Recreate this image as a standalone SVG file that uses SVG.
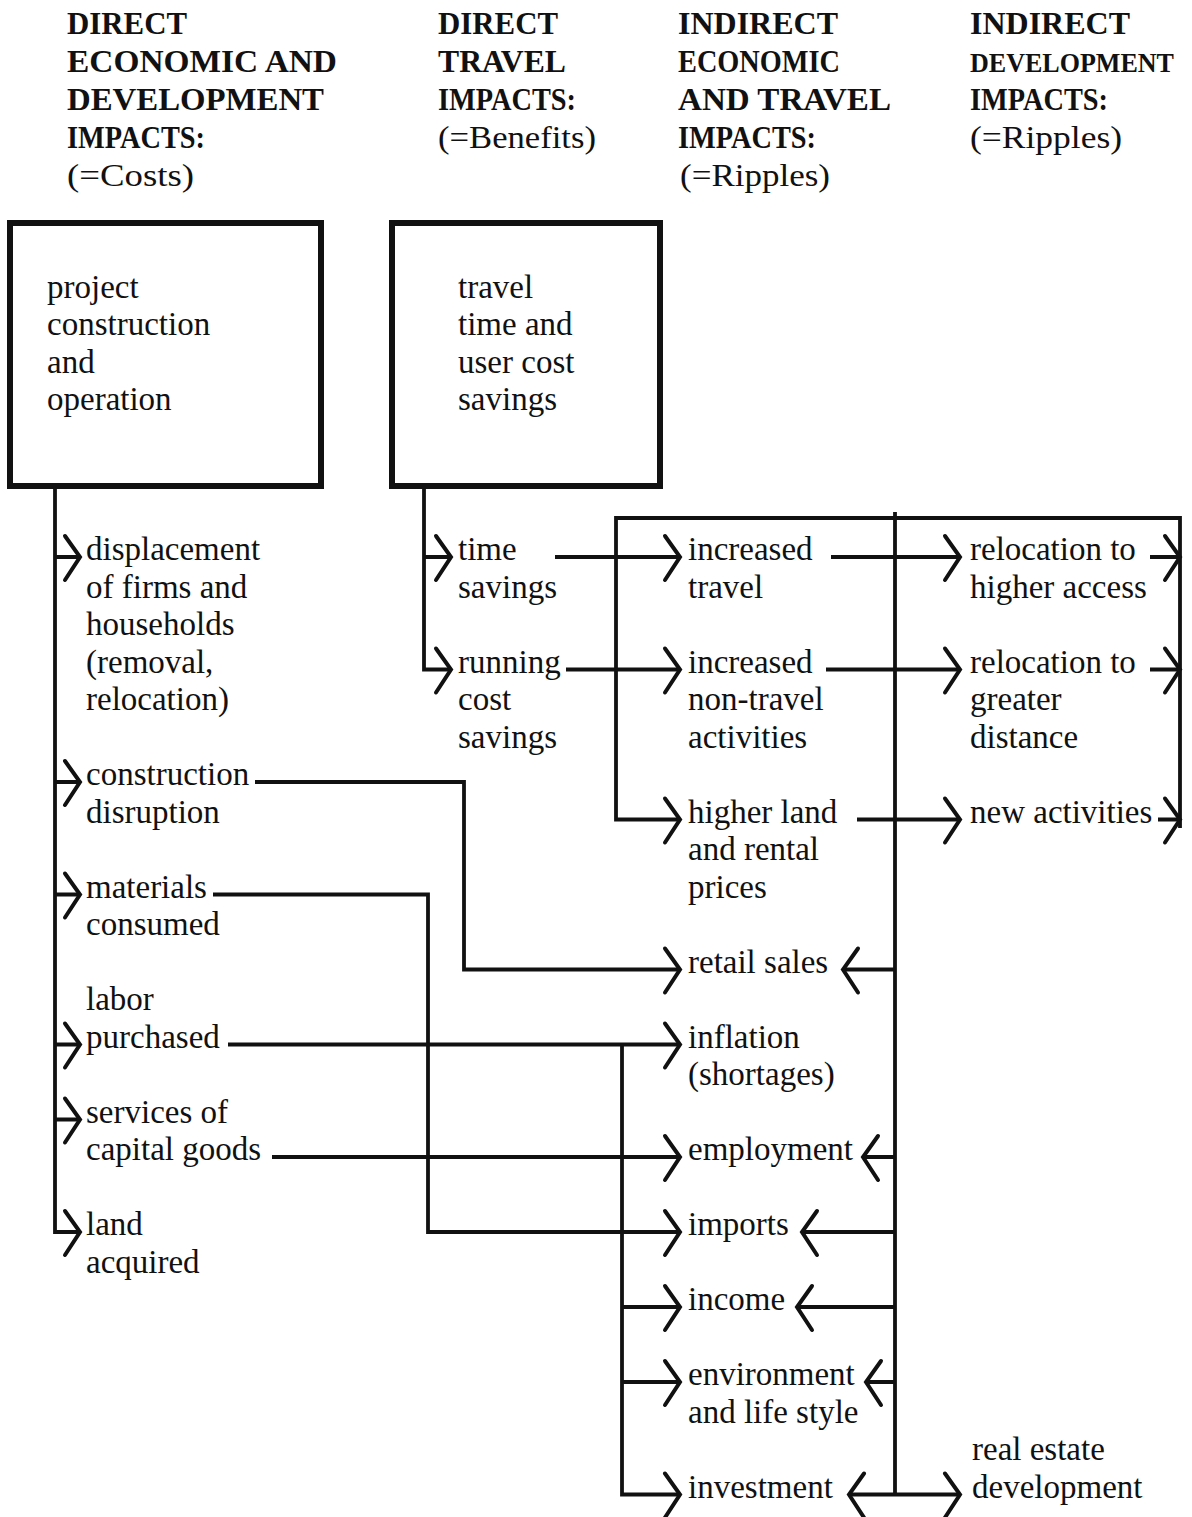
<svg xmlns="http://www.w3.org/2000/svg" xmlns:xlink="http://www.w3.org/1999/xlink" width="1192" height="1517" viewBox="0 0 1192 1517">
<style>
text{font-family:"Liberation Serif","Times New Roman",serif;fill:#111}
.h{font-size:31px;font-weight:bold}
.hp{font-size:31px}
.t{font-size:33px}
.box{fill:none;stroke:#111;stroke-width:6}
.c{fill:none;stroke:#111;stroke-width:3.8;stroke-linejoin:miter}
.a{fill:none;stroke:#111;stroke-width:4;stroke-linecap:round;stroke-linejoin:miter}
</style>
<defs>
<path id="ar" class="a" d="M-15,-21 L0,0 L-15,23"/>
<path id="al" class="a" d="M15,-21 L0,0 L15,23"/>
</defs>
<rect width="1192" height="1517" fill="#fff"/>

<g id="headers">
<g id="h1"><text class="h" x="67" y="34" textLength="120" lengthAdjust="spacingAndGlyphs">DIRECT</text><text class="h" x="67" y="72" textLength="270" lengthAdjust="spacingAndGlyphs">ECONOMIC AND</text><text class="h" x="67" y="110" textLength="257" lengthAdjust="spacingAndGlyphs">DEVELOPMENT</text><text class="h" x="67" y="148" textLength="138" lengthAdjust="spacingAndGlyphs">IMPACTS:</text><text class="hp" x="67" y="186" textLength="127" lengthAdjust="spacingAndGlyphs">(=Costs)</text></g>
<g id="h2"><text class="h" x="438" y="34" textLength="120" lengthAdjust="spacingAndGlyphs">DIRECT</text><text class="h" x="438" y="72" textLength="128" lengthAdjust="spacingAndGlyphs">TRAVEL</text><text class="h" x="438" y="110" textLength="138" lengthAdjust="spacingAndGlyphs">IMPACTS:</text><text class="hp" x="438" y="148" textLength="158" lengthAdjust="spacingAndGlyphs">(=Benefits)</text></g>
<g id="h3"><text class="h" x="678" y="34" textLength="160" lengthAdjust="spacingAndGlyphs">INDIRECT</text><text class="h" x="678" y="72" textLength="162" lengthAdjust="spacingAndGlyphs">ECONOMIC</text><text class="h" x="678" y="110" textLength="213" lengthAdjust="spacingAndGlyphs">AND TRAVEL</text><text class="h" x="678" y="148" textLength="138" lengthAdjust="spacingAndGlyphs">IMPACTS:</text><text class="hp" x="680" y="186" textLength="150" lengthAdjust="spacingAndGlyphs">(=Ripples)</text></g>
<g id="h4"><text class="h" x="970" y="34" textLength="160" lengthAdjust="spacingAndGlyphs">INDIRECT</text><text class="h" x="970" y="72" style="font-size:28px" textLength="204" lengthAdjust="spacingAndGlyphs">DEVELOPMENT</text><text class="h" x="970" y="110" textLength="138" lengthAdjust="spacingAndGlyphs">IMPACTS:</text><text class="hp" x="970" y="148" textLength="152" lengthAdjust="spacingAndGlyphs">(=Ripples)</text></g>
</g>

<g id="connectors">
<path class="c" d="M55,486 V1232 H80 M55,557 H80 M55,782 H80 M55,894.5 H80 M55,1044.5 H80 M55,1119.5 H80"/>
<path class="c" d="M424,486 V669.5 H451 M424,557 H451"/>
<path class="c" d="M555,557 H680 M566,669.5 H680"/>
<path class="c" d="M255,782 H464 V969.5 H680"/>
<path class="c" d="M213,894.5 H428 V1232 H680"/>
<path class="c" d="M228,1044.5 H680"/>
<path class="c" d="M622,1044.5 V1494.5 H680 M622,1307 H680 M622,1382 H680"/>
<path class="c" d="M272,1157 H680"/>
<path class="c" d="M680,819.5 H616 V518 H1180 V828"/>
<path class="c" d="M895,512 V1494.5 M895,969.5 H843 M895,1157 H863 M895,1232 H802 M895,1307 H797 M895,1382 H866 M849,1494.5 H960"/>
<path class="c" d="M831,557 H960 M826,669.5 H960 M857,819.5 H960"/>
<path class="c" d="M1150,557 H1180 M1150,669.5 H1180 M1158,819.5 H1180"/>
<use href="#ar" x="80" y="557"/><use href="#ar" x="80" y="782"/><use href="#ar" x="80" y="894.5"/><use href="#ar" x="80" y="1044.5"/><use href="#ar" x="80" y="1119.5"/><use href="#ar" x="80" y="1232"/>
<use href="#ar" x="451" y="557"/><use href="#ar" x="451" y="669.5"/>
<use href="#ar" x="680" y="557"/><use href="#ar" x="680" y="669.5"/><use href="#ar" x="680" y="819.5"/><use href="#ar" x="680" y="969.5"/><use href="#ar" x="680" y="1044.5"/><use href="#ar" x="680" y="1157"/><use href="#ar" x="680" y="1232"/><use href="#ar" x="680" y="1307"/><use href="#ar" x="680" y="1382"/><use href="#ar" x="680" y="1494.5"/>
<use href="#ar" x="960" y="557"/><use href="#ar" x="960" y="669.5"/><use href="#ar" x="960" y="819.5"/><use href="#ar" x="960" y="1494.5"/>
<use href="#ar" x="1180" y="557"/><use href="#ar" x="1180" y="669.5"/><use href="#ar" x="1180" y="819.5"/>
<use href="#al" x="843" y="969.5"/><use href="#al" x="863" y="1157"/><use href="#al" x="802" y="1232"/><use href="#al" x="797" y="1307"/><use href="#al" x="866" y="1382"/><use href="#al" x="849" y="1494.5"/>
</g>

<g id="n-project"><rect class="box" x="10" y="223" width="311" height="263"/><text class="t" x="47" y="297.5">project</text><text class="t" x="47" y="335">construction</text><text class="t" x="47" y="372.5">and</text><text class="t" x="47" y="410">operation</text></g>
<g id="n-travel"><rect class="box" x="392" y="223" width="268" height="263"/><text class="t" x="458" y="297.5">travel</text><text class="t" x="458" y="335">time and</text><text class="t" x="458" y="372.5">user cost</text><text class="t" x="458" y="410">savings</text></g>

<g id="n-displacement"><text class="t" x="86" y="560">displacement</text><text class="t" x="86" y="597.5">of firms and</text><text class="t" x="86" y="635">households</text><text class="t" x="86" y="672.5">(removal,</text><text class="t" x="86" y="710">relocation)</text></g>
<g id="n-disruption"><text class="t" x="86" y="785">construction</text><text class="t" x="86" y="822.5">disruption</text></g>
<g id="n-materials"><text class="t" x="86" y="897.5">materials</text><text class="t" x="86" y="935">consumed</text></g>
<g id="n-labor"><text class="t" x="86" y="1010">labor</text><text class="t" x="86" y="1047.5">purchased</text></g>
<g id="n-services"><text class="t" x="86" y="1122.5">services of</text><text class="t" x="86" y="1160">capital goods</text></g>
<g id="n-land"><text class="t" x="86" y="1235">land</text><text class="t" x="86" y="1272.5">acquired</text></g>

<g id="n-time"><text class="t" x="458" y="560">time</text><text class="t" x="458" y="597.5">savings</text></g>
<g id="n-running"><text class="t" x="458" y="672.5">running</text><text class="t" x="458" y="710">cost</text><text class="t" x="458" y="747.5">savings</text></g>

<g id="n-inc-travel"><text class="t" x="688" y="560">increased</text><text class="t" x="688" y="597.5">travel</text></g>
<g id="n-inc-nontravel"><text class="t" x="688" y="672.5">increased</text><text class="t" x="688" y="710">non-travel</text><text class="t" x="688" y="747.5">activities</text></g>
<g id="n-land-prices"><text class="t" x="688" y="822.5">higher land</text><text class="t" x="688" y="860">and rental</text><text class="t" x="688" y="897.5">prices</text></g>
<g id="n-retail"><text class="t" x="688" y="972.5">retail sales</text></g>
<g id="n-inflation"><text class="t" x="688" y="1047.5">inflation</text><text class="t" x="688" y="1085">(shortages)</text></g>
<g id="n-employment"><text class="t" x="688" y="1160">employment</text></g>
<g id="n-imports"><text class="t" x="688" y="1235">imports</text></g>
<g id="n-income"><text class="t" x="688" y="1310">income</text></g>
<g id="n-environment"><text class="t" x="688" y="1385">environment</text><text class="t" x="688" y="1422.5">and life style</text></g>
<g id="n-investment"><text class="t" x="688" y="1497.5">investment</text></g>

<g id="n-reloc-access"><text class="t" x="970" y="560">relocation to</text><text class="t" x="970" y="597.5">higher access</text></g>
<g id="n-reloc-distance"><text class="t" x="970" y="672.5">relocation to</text><text class="t" x="970" y="710">greater</text><text class="t" x="970" y="747.5">distance</text></g>
<g id="n-new-activities"><text class="t" x="970" y="822.5">new activities</text></g>
<g id="n-real-estate"><text class="t" x="972" y="1460">real estate</text><text class="t" x="972" y="1497.5">development</text></g>
</svg>
